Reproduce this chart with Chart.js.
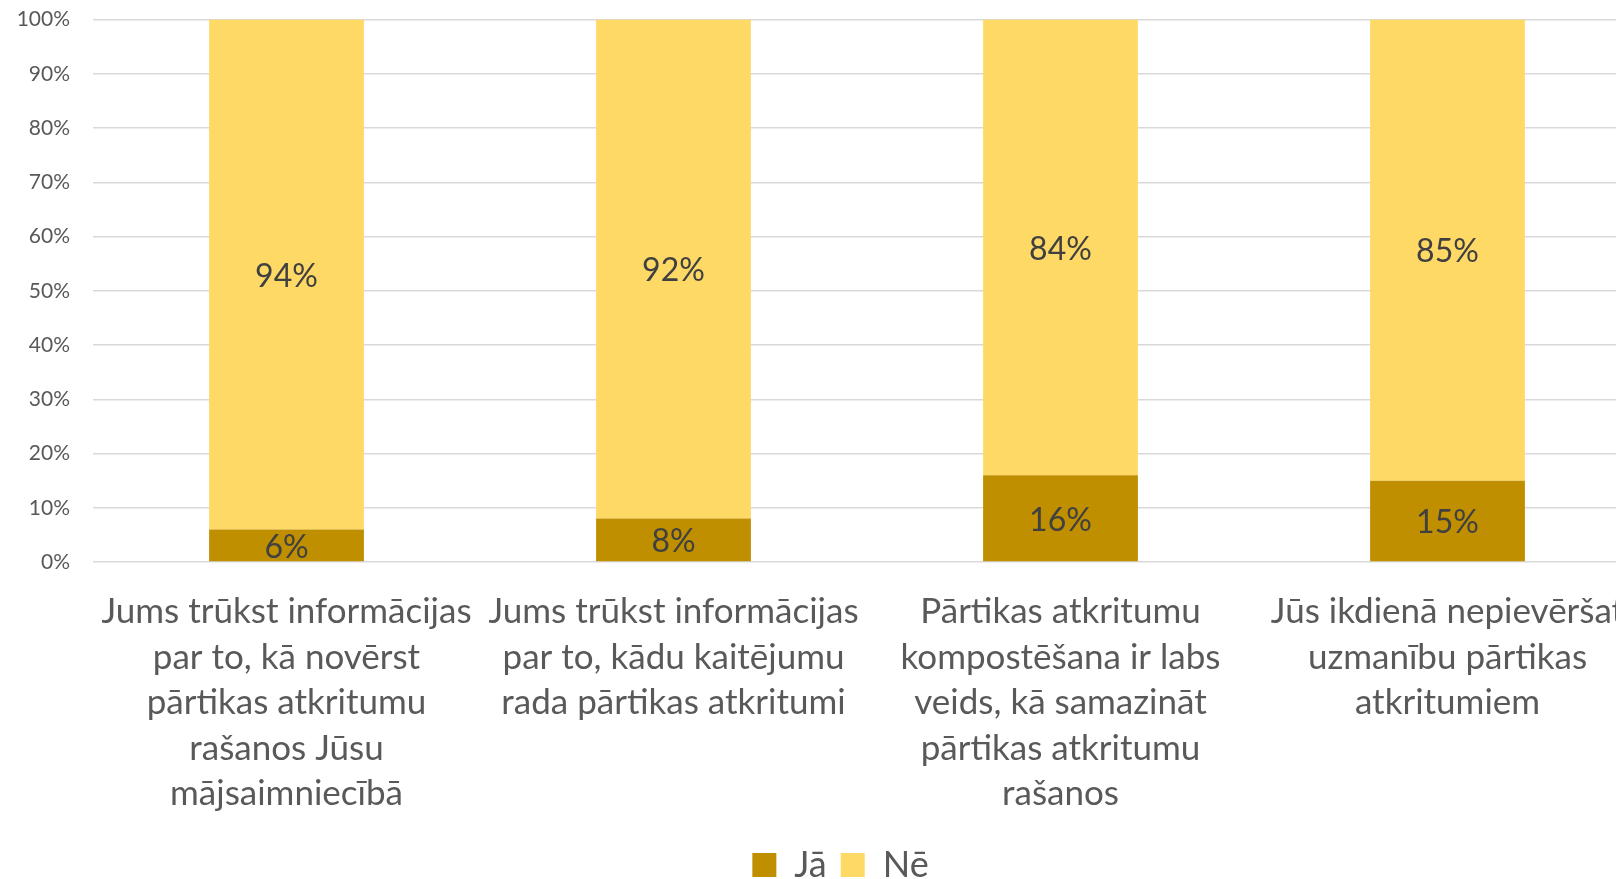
<!DOCTYPE html>
<html>
<head>
<meta charset="utf-8">
<script src="https://cdn.jsdelivr.net/npm/chart.js@4/dist/chart.umd.min.js"></script>
<style>
    html, body { margin: 0; padding: 0; background: #fff; overflow: hidden; }
    #wrap { position: relative; top: -16px; width: 1680px; height: 909px; }
</style>
</head>
<body>
<div id="wrap"><canvas id="chart"></canvas></div>
<script>
var categories = [
    ['Jums trūkst informācijas', 'par to, kā novērst', 'pārtikas atkritumu', 'rašanos Jūsu', 'mājsaimniecībā'],
    ['Jums trūkst informācijas', 'par to, kādu kaitējumu', 'rada pārtikas atkritumi'],
    ['Pārtikas atkritumu', 'kompostēšana ir labs', 'veids, kā samazināt', 'pārtikas atkritumu', 'rašanos'],
    ['Jūs ikdienā nepievēršat', 'uzmanību pārtikas', 'atkritumiem']
];
var yesValues = [6, 8, 16, 15];
var noValues = [94, 92, 84, 85];
var seriesNames = ['Jā', 'Nē'];

var FONT = 'Lato, "Open Sans", sans-serif';

// draws the percentage in the middle of each segment
var segmentLabels = {
    id: 'segmentLabels',
    afterDatasetsDraw: function(chart) {
        var ctx = chart.ctx;
        ctx.save();
        ctx.font = '32px ' + FONT;
        ctx.fillStyle = '#404040';
        ctx.textAlign = 'center';
        ctx.textBaseline = 'middle';
        chart.data.datasets.forEach(function(ds, i) {
            var meta = chart.getDatasetMeta(i);
            meta.data.forEach(function(bar, j) {
                var mid = (bar.y + bar.base) / 2;
                ctx.fillText(ds.data[j] + '%', bar.x, mid + 2);
            });
        });
        ctx.restore();
    }
};

// nudge the legend a bit to the right, the original chart was wider than the crop
var legendShift = {
    id: 'legendShift',
    afterLayout: function(chart) {
        if (chart.legend) {
            chart.legend.left += 20;
            chart.legend.right += 20;
        }
    }
};

var ctx = document.getElementById('chart').getContext('2d');
new Chart(ctx, {
    type: 'bar',
    data: {
        labels: categories,
        datasets: [{
            label: seriesNames[0],
            data: yesValues,
            backgroundColor: '#BF8F00'
        }, {
            label: seriesNames[1],
            data: noValues,
            backgroundColor: '#FFD966'
        }]
    },
    options: {
        responsive: true,
        maintainAspectRatio: false,
        animation: false,
        layout: { padding: { top: 8, right: 39, bottom: 0, left: 0 } },
        datasets: { bar: { categoryPercentage: 0.4, barPercentage: 1 } },
        plugins: {
            tooltip: { enabled: false },
            legend: {
                position: 'bottom',
                labels: {
                    font: { family: FONT, size: 36 },
                    color: '#595959',
                    boxWidth: 24,
                    boxHeight: 24,
                    padding: 14
                }
            }
        },
        scales: {
            x: {
                stacked: true,
                grid: { display: false },
                border: { display: false },
                ticks: {
                    font: { family: FONT, size: 35, lineHeight: 1.3 },
                    color: '#595959',
                    maxRotation: 0,
                    autoSkip: false,
                    padding: 19
                },
                afterFit: function(scale) { scale.height = 271; }
            },
            y: {
                stacked: true,
                min: 0,
                max: 100,
                grid: { color: '#d9d9d9', lineWidth: 1.5, drawTicks: false },
                border: { display: false },
                ticks: {
                    stepSize: 10,
                    font: { family: FONT, size: 21 },
                    color: '#595959',
                    padding: 23,
                    callback: function(v) { return v + '%'; }
                },
                afterFit: function(scale) { scale.width = 93; }
            }
        }
    },
    plugins: [segmentLabels, legendShift]
});
</script>
</body>
</html>
